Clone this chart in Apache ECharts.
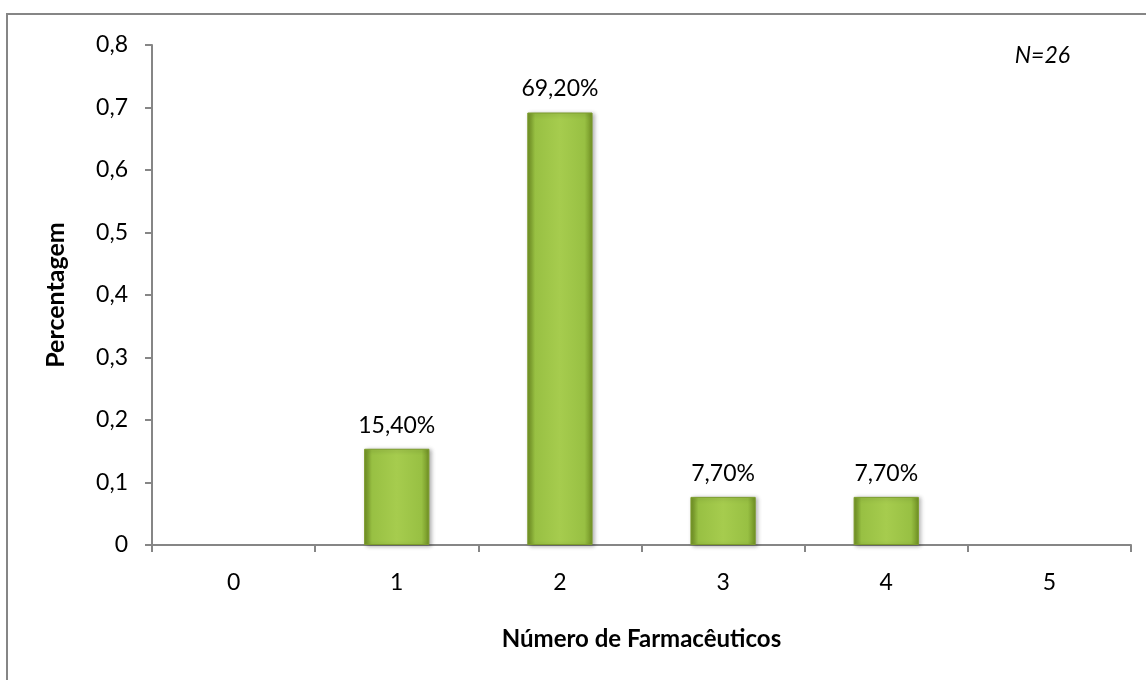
<!DOCTYPE html>
<html>
<head>
<meta charset="utf-8">
<script src="https://cdn.jsdelivr.net/npm/echarts@6/dist/echarts.min.js"></script>
<style>
html,body{margin:0;padding:0;background:#fff;}
#chart{width:1146px;height:680px;}
</style>
</head>
<body>
<div id="chart"></div>
<script>
const categories = ['0', '1', '2', '3', '4', '5'];
const values = [null, 0.154, 0.692, 0.077, 0.077, null];
const valueLabels = ['', '15,40%', '69,20%', '7,70%', '7,70%', ''];
const yTicks = [0, 0.1, 0.2, 0.3, 0.4, 0.5, 0.6, 0.7, 0.8];
const xTitle = 'Número de Farmacêuticos';
const yTitle = 'Percentagem';
const note = 'N=26';

const FONT = 'Lato, "Open Sans", sans-serif';
const chart = echarts.init(document.getElementById('chart'));
const barFill = new echarts.graphic.LinearGradient(0, 0, 1, 0, [
  {offset: 0, color: '#6f8f23'},
  {offset: 0.12, color: '#98c043'},
  {offset: 0.5, color: '#a6cc4e'},
  {offset: 0.88, color: '#98c043'},
  {offset: 1, color: '#6f8f23'}
]);
chart.setOption({
  animation: false,
  backgroundColor: '#ffffff',
  grid: {left: 152, top: 45, right: 15, bottom: 135, containLabel: false},
  graphic: [
    {type: 'rect', shape: {x: 7, y: 14, width: 1160, height: 700},
     style: {fill: 'none', stroke: '#868686', lineWidth: 2}, silent: true, z: 0},
    {type: 'text', right: 76, top: 44,
     style: {text: note, font: 'italic 23px ' + FONT, fill: '#000'}}
  ],
  xAxis: {
    type: 'category',
    data: categories,
    name: xTitle,
    nameLocation: 'middle',
    nameGap: 82,
    nameTextStyle: {fontFamily: FONT, fontWeight: 'bold', fontSize: 24, color: '#000'},
    axisLine: {lineStyle: {color: '#868686', width: 2}},
    axisTick: {show: true, alignWithLabel: false, length: 7, lineStyle: {color: '#868686', width: 2}},
    axisLabel: {fontFamily: FONT, fontSize: 23, color: '#000', margin: 26}
  },
  yAxis: {
    type: 'value',
    min: 0, max: 0.8, interval: 0.1,
    name: yTitle,
    nameLocation: 'middle',
    nameGap: 84,
    nameRotate: 90,
    nameTextStyle: {fontFamily: FONT, fontWeight: 'bold', fontSize: 25, color: '#000'},
    splitLine: {show: false},
    axisLine: {show: true, lineStyle: {color: '#868686', width: 2}},
    axisTick: {show: true, length: 7, lineStyle: {color: '#868686', width: 2}},
    axisLabel: {
      fontFamily: FONT, fontSize: 23, color: '#000', margin: 24,
      formatter: v => {
        const t = yTicks.find(x => Math.abs(x - v) < 1e-9);
        const n = t === undefined ? v : t;
        return n === 0 ? '0' : n.toFixed(1).replace('.', ',');
      }
    }
  },
  series: [{
    type: 'bar',
    data: values,
    barWidth: '40%',
    itemStyle: {
      color: barFill,
      borderColor: '#7c9c2c',
      borderWidth: 1,
      shadowColor: 'rgba(0,0,0,0.3)',
      shadowBlur: 4,
      shadowOffsetX: 2,
      shadowOffsetY: 1
    },
    label: {
      show: true,
      position: 'top',
      distance: 12,
      fontFamily: FONT,
      fontSize: 23,
      color: '#000',
      formatter: p => valueLabels[p.dataIndex]
    }
  }]
});
</script>
</body>
</html>
